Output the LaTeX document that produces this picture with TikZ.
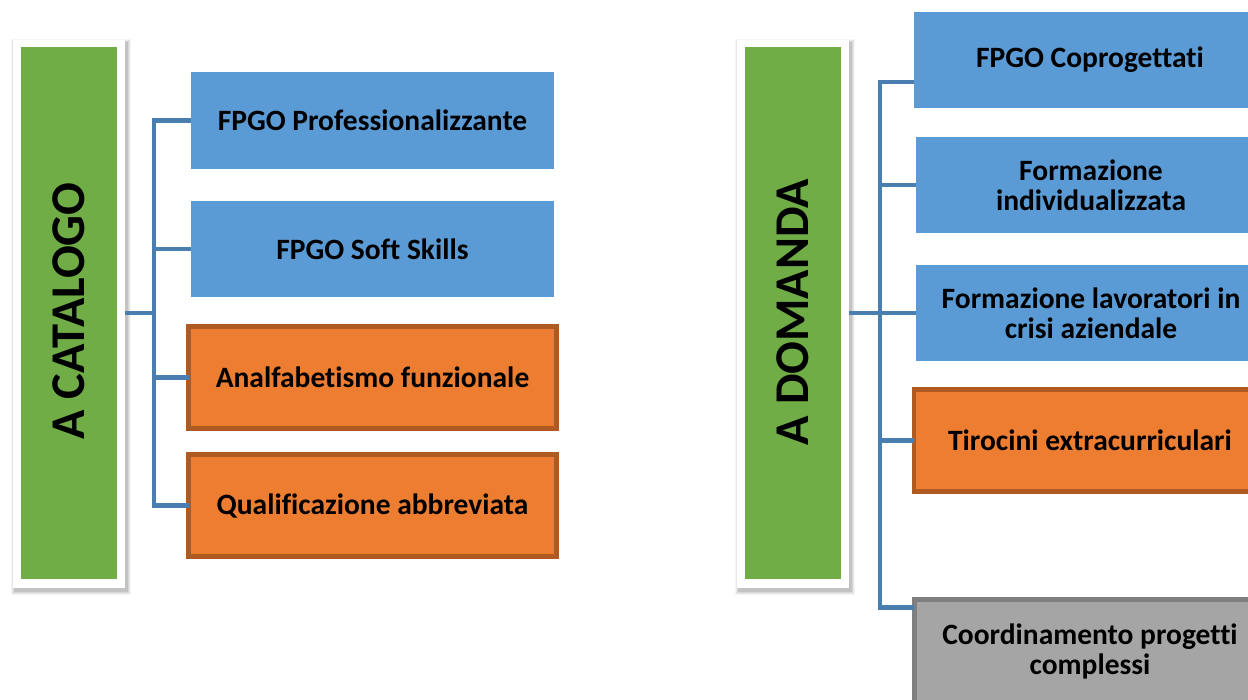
\documentclass[tikz,border=0pt]{standalone}
\usepackage{fontspec}
\setmainfont{Carlito}[Ligatures=NoCommon]
\definecolor{bluef}{HTML}{5B9BD5}
\definecolor{orangef}{HTML}{ED7D31}
\definecolor{oranged}{HTML}{AE5A21}
\definecolor{greenf}{HTML}{70AD47}
\definecolor{grayf}{HTML}{A5A5A5}
\definecolor{grayd}{HTML}{7F7F7F}
\definecolor{linec}{HTML}{4A7DB0}
\tikzset{
  box/.style={inner sep=0pt, outer sep=0pt, align=center, text=black,
    font=\fontsize{29.5}{30}\selectfont\bfseries},
  bluebox/.style={box, fill=bluef, minimum width=363pt, minimum height=97pt},
  orangebox/.style={box, fill=orangef, draw=oranged, line width=4.5pt,
    minimum width=368pt, minimum height=102pt},
  graybox/.style={box, fill=grayf, draw=grayd, line width=5pt,
    minimum width=368pt, minimum height=102pt},
  frame/.style={inner sep=0pt, outer sep=0pt, fill=white,
    minimum width=112pt, minimum height=548pt},
  panel/.style={inner sep=0pt, outer sep=0pt, fill=greenf,
    minimum width=96pt, minimum height=532pt},
  paneltext/.style={inner sep=0pt, rotate=90, text=black,
    font=\fontsize{48.5}{50}\selectfont\bfseries},
  conn/.style={draw=linec, line width=4.5pt}
}
\begin{document}
\begin{tikzpicture}[x=1pt, y=-1pt]
\path[use as bounding box, clip] (0,0) rectangle (1248,699);
\fill[white] (0,0) rectangle (1248,699);
% soft shadows of the frames
\foreach \cx in {69,793}{
  \foreach \d/\o in {4/0.04,3/0.05,2/0.07,1/0.09}{
    \fill[black, opacity=\o] (\cx-56-\d+2,40-\d+3) rectangle (\cx+56+\d+2,588+\d+3);
  }
}
% left panel
\node[frame] (catframe) at (69,314) {};
\node[panel] (cat) at (69,313) {};
\node[paneltext] (cattext) at (69,311) {A CATALOGO};
% right panel
\node[frame] (domframe) at (793,314) {};
\node[panel] (dom) at (793,313) {};
\node[paneltext] (domtext) at (793,312) {A DOMANDA};

% left boxes
\node[bluebox] (l1) at (372.5,120.5) {FPGO Professionalizzante};
\node[bluebox, minimum height=96pt] (l2) at (372.5,249) {FPGO Soft Skills};
\node[orangebox] (l3) at (372.5,377.5) {Analfabetismo funzionale};
\node[orangebox] (l4) at (372.5,505.5) {Qualificazione abbreviata};

% right boxes
\node[bluebox, minimum width=352pt, minimum height=96pt] (r1) at (1090,60) {FPGO Coprogettati};
\node[bluebox, minimum width=350pt, minimum height=96pt] (r2) at (1091,185) {Formazione\\individualizzata};
\node[bluebox, minimum width=350pt, minimum height=96pt] (r3) at (1091,313) {Formazione lavoratori in\\crisi aziendale};
\node[orangebox, minimum width=352pt, minimum height=102pt] (r4) at (1090,440.5) {Tirocini extracurriculari};
\node[graybox, minimum width=352pt, minimum height=104pt] (r5) at (1090,651.5) {Coordinamento progetti\\complessi};

% left connectors
\coordinate (jl) at (154,313);
\draw[conn] (catframe.east |- jl) -- (jl);
\draw[conn] (l1.west) -| (jl) |- (l4.west);
\draw[conn] (jl) |- (l2.west);
\draw[conn] (jl) |- (l3.west);

% right connectors
\coordinate (jr) at (880,313);
\draw[conn] (domframe.east |- jr) -- (jr);
\draw[conn] ([yshift=-22pt]r1.west) -| (jr) |- ([yshift=44pt]r5.west);
\draw[conn] (jr) |- (r2.west);
\draw[conn] (jr) |- (r3.west);
\draw[conn] (jr) |- (r4.west);
\end{tikzpicture}
\end{document}
